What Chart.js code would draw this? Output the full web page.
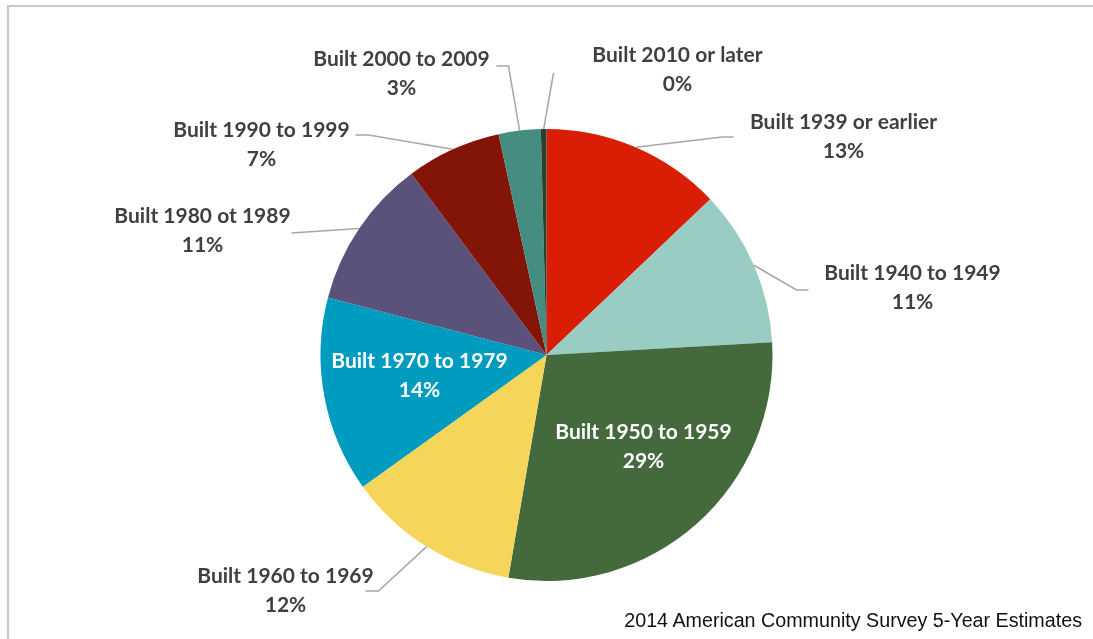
<!DOCTYPE html>
<html>
<head>
<meta charset="utf-8">
<script src="https://cdn.jsdelivr.net/npm/chart.js@4"></script>
<style>
    html, body { margin: 0; padding: 0; background: #fff; }
    #wrap { position: relative; width: 1093px; height: 639px; overflow: hidden; }
    #frame { position: absolute; left: 7px; top: 5px; right: -4px; bottom: -4px;
             border-left: 2px solid #cfc8bf; border-top: 2px solid #cfc8bf; }
    #source { position: absolute; right: 11px; top: 609px; font-family: "Liberation Sans", Arial, sans-serif;
              font-size: 19.7px; color: #111; white-space: nowrap; }
    canvas { position: absolute; left: 0; top: 0; }
</style>
</head>
<body>
<div id="wrap">
    <div id="frame"></div>
    <canvas id="pieChart" width="1093" height="639"></canvas>
    <div id="source">2014 American Community Survey 5-Year Estimates</div>
</div>
<script>
const categories = ['Built 1939 or earlier', 'Built 1940 to 1949', 'Built 1950 to 1959', 'Built 1960 to 1969',
    'Built 1970 to 1979', 'Built 1980 ot 1989', 'Built 1990 to 1999', 'Built 2000 to 2009', 'Built 2010 or later'];
const shares = [12.9, 11.2, 28.6, 12.4, 14.0, 10.7, 6.8, 3.0, 0.4];
const sliceColors = ['#d91e05', '#99cdc4', '#44693d', '#f6d65a', '#009cbf', '#5a527b', '#831408', '#468d81', '#28422d'];

// label placement, px offsets from the pie centre at radius 226
const labelSpots = [
    { box: [297, -219], elbow: [176, -218], end: [187, -218] },
    { box: [366, -68], elbow: [250, -65], end: [262, -65] },
    { box: [97, 91], inside: true },
    { box: [-261, 235], elbow: [-168, 236], end: [-181, 236] },
    { box: [-127, 20], inside: true },
    { box: [-344, -125], elbow: [-255, -122], end: [-255, -122] },
    { box: [-285, -211], elbow: [-178, -220], end: [-191, -220] },
    { box: [-145, -282], elbow: [-38, -289], end: [-50, -289] },
    { box: [131, -286], elbow: [7, -282], end: [7, -282] }
];

const pieLabels = {
    id: 'pieLabels',
    afterDatasetsDraw(chart) {
        const ctx = chart.ctx;
        const arcs = chart.getDatasetMeta(0).data;
        const total = shares.reduce((a, b) => a + b, 0);
        ctx.save();
        arcs.forEach((arc, i) => {
            const spot = labelSpots[i];
            const s = arc.outerRadius / 226;
            const cx = arc.x, cy = arc.y;
            if (!spot.inside) {
                const mid = (arc.startAngle + arc.endAngle) / 2;
                ctx.beginPath();
                ctx.moveTo(cx + Math.cos(mid) * arc.outerRadius, cy + Math.sin(mid) * arc.outerRadius);
                ctx.lineTo(cx + spot.elbow[0] * s, cy + spot.elbow[1] * s);
                ctx.lineTo(cx + spot.end[0] * s, cy + spot.end[1] * s);
                ctx.strokeStyle = '#a6a6a6';
                ctx.lineWidth = 1.5;
                ctx.stroke();
            }
            const pct = Math.round(shares[i] / total * 100) + '%';
            const bx = cx + spot.box[0] * s, by = cy + spot.box[1] * s;
            ctx.fillStyle = spot.inside ? '#ffffff' : '#404040';
            ctx.font = 'bold 21px Lato, "Open Sans", sans-serif';
            ctx.textAlign = 'center';
            ctx.textBaseline = 'middle';
            ctx.fillText(categories[i], bx, by - 14);
            ctx.fillText(pct, bx, by + 15);
        });
        ctx.restore();
    }
};

new Chart(document.getElementById('pieChart'), {
    type: 'pie',
    data: {
        labels: categories,
        datasets: [{
            data: shares,
            backgroundColor: sliceColors,
            borderWidth: 0
        }]
    },
    options: {
        responsive: false,
        animation: false,
        layout: { padding: { top: 129, bottom: 58, left: 320, right: 320 } },
        plugins: {
            legend: { display: false },
            tooltip: { enabled: false }
        }
    },
    plugins: [pieLabels]
});
</script>
</body>
</html>
